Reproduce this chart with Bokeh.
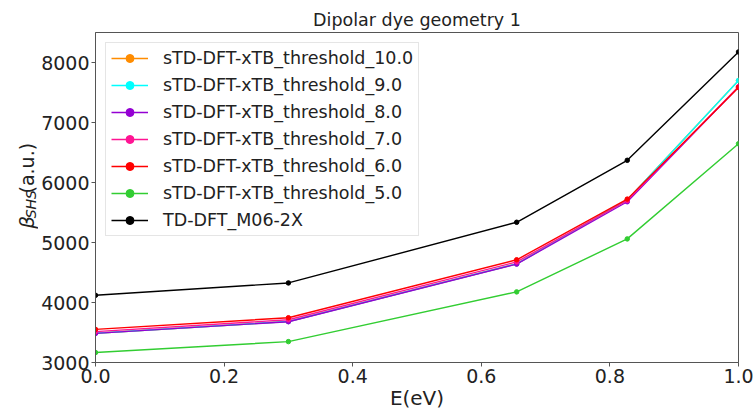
import math
from bokeh.plotting import figure
from bokeh.layouts import row
from bokeh.models import FixedTicker, Range1d
from bokeh.core.properties import value
from bokeh.embed import file_html
from bokeh.resources import INLINE

energy = [0.0, 0.3, 0.655, 0.827, 1.0]

thr_10 = [3488, 3684, 4644, 5708, 7698]
thr_9 = [3488, 3684, 4644, 5710, 7700]
thr_8 = [3485, 3680, 4640, 5679, 7592]
thr_7 = [3515, 3712, 4676, 5700, 7596]
thr_6 = [3552, 3746, 4712, 5723, 7585]
thr_5 = [3166, 3348, 4177, 5060, 6646]
td_dft = [4120, 4326, 5337, 6370, 8176]

series_labels = [
    "sTD-DFT-xTB_threshold_10.0",
    "sTD-DFT-xTB_threshold_9.0",
    "sTD-DFT-xTB_threshold_8.0",
    "sTD-DFT-xTB_threshold_7.0",
    "sTD-DFT-xTB_threshold_6.0",
    "sTD-DFT-xTB_threshold_5.0",
    "TD-DFT_M06-2X",
]
series_values = [thr_10, thr_9, thr_8, thr_7, thr_6, thr_5, td_dft]
series_colors = ["#ff8c00", "#00ffff", "#9400d3", "#ff1493", "#ff0000", "#32cd32", "#000000"]

x_ticks = [0.0, 0.2, 0.4, 0.6, 0.8, 1.0]
y_ticks = [3000, 4000, 5000, 6000, 7000, 8000]

FONT = "DejaVu Sans"
AXC = "#555555"
TXT = "#222222"

LABEL_W = 38

p = figure(width=755 - LABEL_W, height=412, output_backend="svg", toolbar_location=None,
           x_range=Range1d(0.0, 1.0), y_range=Range1d(3000, 8500),
           title="Dipolar dye geometry 1",
           min_border_left=93 - LABEL_W, min_border_right=17, min_border_top=32,
           min_border_bottom=48)

p.title.align = "center"
p.title.text_font = FONT
p.title.text_font_size = "17.5px"
p.title.text_font_style = "normal"
p.title.text_color = TXT
p.title.standoff = 6

p.grid.visible = False
p.outline_line_color = AXC
p.outline_line_width = 1

for ax in (p.xaxis[0], p.yaxis[0]):
    ax.axis_line_color = AXC
    ax.major_tick_line_color = AXC
    ax.major_tick_in = 0
    ax.major_tick_out = 4
    ax.minor_tick_line_color = None
    ax.major_label_text_font = FONT
    ax.major_label_text_font_size = "19px"
    ax.major_label_text_color = TXT
    ax.major_label_standoff = 2

p.xaxis.ticker = FixedTicker(ticks=x_ticks)
p.yaxis.ticker = FixedTicker(ticks=y_ticks)
p.xaxis.major_label_overrides = {t: f"{t:.1f}" for t in x_ticks}
p.yaxis.major_label_overrides = {t: str(t) for t in y_ticks}

p.xaxis.axis_label = "E(eV)"
p.xaxis.axis_label_text_font = FONT
p.xaxis.axis_label_text_font_size = "20px"
p.xaxis.axis_label_text_font_style = "normal"
p.xaxis.axis_label_text_color = TXT
p.xaxis.axis_label_standoff = 0

for lbl, vals, col in zip(series_labels, series_values, series_colors):
    p.line(energy, vals, line_color=col, line_width=1.4, legend_label=lbl)
    p.scatter(energy, vals, fill_color=col, line_color=col, size=4.5, legend_label=lbl)

lg = p.legend[0]
lg.location = "top_left"
lg.margin = 10
lg.padding = 5
lg.spacing = 7
lg.label_height = 20
lg.glyph_height = 20
lg.glyph_width = 37
lg.label_standoff = 15
lg.label_text_font = FONT
lg.label_text_font_size = "17.5px"
lg.label_text_color = TXT
lg.border_line_color = "#cccccc"
lg.border_line_width = 1
lg.background_fill_alpha = 0.8

# narrow panel on the left holding the y-axis title  "β_SHS(a.u.)"
yl = figure(width=LABEL_W, height=412, output_backend="svg", toolbar_location=None,
            x_range=Range1d(0, LABEL_W), y_range=Range1d(0, 412),
            x_axis_type=None, y_axis_type=None, min_border=0)
yl.grid.visible = False
yl.outline_line_color = None

ylabel_parts = ["β", "SHS", "(a.u.)"]
ylabel_x = [26, 30, 26]
ylabel_y = [412 - 245, 412 - 232, 412 - 201]
ylabel_sizes = ["20px", "14px", "19px"]
ylabel_styles = ["italic", "italic", "normal"]
for t, xx, yy, fs, st in zip(ylabel_parts, ylabel_x, ylabel_y, ylabel_sizes, ylabel_styles):
    yl.text(x=[xx], y=[yy], text=[t], angle=math.pi / 2, text_align="left",
            text_baseline="alphabetic", text_font=value(FONT), text_font_size=fs,
            text_font_style=st, text_color=TXT)

layout = row(yl, p, spacing=0)
open("out.html", "w").write(file_html(layout, INLINE))
